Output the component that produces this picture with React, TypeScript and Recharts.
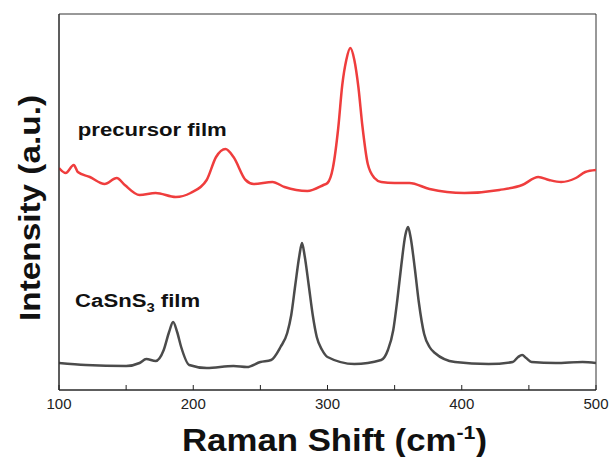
import { LineChart, Line, XAxis, YAxis, ReferenceArea, ReferenceDot } from "recharts";

// Raman shift (cm-1) and intensity (a.u.)
const precursorShift = [100, 105, 111, 114, 123, 134, 143, 149, 160, 172, 187, 198, 210, 217, 224, 230, 239, 245, 259, 268, 285, 297, 300, 304, 308, 311, 314, 317, 320, 323, 326, 330, 335, 340, 350, 361, 376, 402, 428, 445, 457, 465, 474, 485, 492, 500];
const precursorIntensity = [222, 217, 225, 218, 213, 206, 212, 205, 195, 197, 193, 197, 210, 233, 241, 233, 210, 206, 208, 203, 199, 205, 207, 222, 262, 305, 330, 342, 330, 303, 264, 226, 212, 208, 207, 207, 201, 197, 200, 205, 213, 210, 208, 212, 218, 220];

const filmShift = [100, 120, 150, 160, 165, 172, 178, 182, 185, 188, 191, 197, 210, 230, 240, 250, 258, 265, 270, 273, 276, 279, 281, 283, 286, 289, 292, 296, 300, 320, 340, 345, 349, 352, 355, 358, 360, 362, 365, 368, 372, 376, 380, 395, 420, 438, 442, 445, 448, 452, 470, 490, 500];
const filmIntensity = [27, 25, 24, 27, 31, 29, 40, 58, 68, 58, 43, 25, 22, 24, 23, 28, 30, 43, 57, 75, 105, 134, 147, 134, 105, 75, 53, 40, 33, 26, 30, 40, 60, 90, 125, 155, 163, 152, 122, 88, 56, 43, 37, 28, 26, 28, 33, 35, 32, 28, 27, 28, 27];

const xTicks = [100, 150, 200, 250, 300, 350, 400, 450, 500];

const precursorData = precursorShift.map((x, i) => ({ x, y: precursorIntensity[i] }));
const filmData = filmShift.map((x, i) => ({ x, y: filmIntensity[i] }));

const FONT = "'Liberation Sans', Arial, sans-serif";

const YTitle = () => (
  <text
    x={30}
    y={208}
    transform="rotate(-90 30 208)"
    textAnchor="middle"
    dominantBaseline="central"
    fontFamily={FONT}
    fontWeight="bold"
    fontSize={29}
    textLength={226}
    lengthAdjust="spacingAndGlyphs"
    fill="#111"
  >
    Intensity (a.u.)
  </text>
);

const XTitle = () => (
  <text
    x={182}
    y={451}
    fontFamily={FONT}
    fontWeight="bold"
    fontSize={31}
    textLength={305}
    lengthAdjust="spacingAndGlyphs"
    fill="#111"
  >
    Raman Shift (cm
    <tspan dy={-12} fontSize={19}>-1</tspan>
    <tspan dy={12}>)</tspan>
  </text>
);

const Note = ({ viewBox, length, children }: any) => (
  <text
    x={viewBox.x}
    y={viewBox.y}
    fontFamily={FONT}
    fontWeight="bold"
    fontSize={18}
    textLength={length}
    lengthAdjust="spacingAndGlyphs"
    fill="#111"
  >
    {children}
  </text>
);

export default function App() {
  return (
    <div style={{ position: "absolute", left: 0, top: 0 }}>
      <LineChart width={611} height={457} margin={{ top: 14, right: 15, bottom: 37, left: 0 }}>
        <XAxis
          dataKey="x"
          type="number"
          domain={[100, 500]}
          ticks={xTicks}
          allowDataOverflow
          height={30}
          tickFormatter={(v: number) => (v % 100 === 0 ? String(v) : "")}
          tickSize={-5}
          tickMargin={13}
          stroke="#222"
          tick={{ fill: "#222", fontSize: 15, fontFamily: FONT }}
          label={{ content: () => <XTitle /> }}
        />
        <YAxis
          type="number"
          domain={[0, 376]}
          width={59}
          tick={false}
          tickLine={false}
          stroke="#222"
          label={{ content: () => <YTitle /> }}
        />
        <ReferenceArea x1={100} x2={500} y1={0} y2={376} fill="none" stroke="#333" strokeWidth={1} ifOverflow="visible" />
        <Line
          data={precursorData}
          dataKey="y"
          type="monotone"
          stroke="#ef3d3d"
          strokeWidth={2.5}
          dot={false}
          isAnimationActive={false}
        />
        <Line
          data={filmData}
          dataKey="y"
          type="monotone"
          stroke="#4b4b4b"
          strokeWidth={2.5}
          dot={false}
          isAnimationActive={false}
        />
        <ReferenceDot
          x={114}
          y={254}
          r={0}
          fill="none"
          stroke="none"
          label={{ content: (p: any) => <Note viewBox={p.viewBox} length={149}>precursor film</Note> }}
        />
        <ReferenceDot
          x={112}
          y={83}
          r={0}
          fill="none"
          stroke="none"
          label={{
            content: (p: any) => (
              <Note viewBox={p.viewBox} length={125}>
                CaSnS<tspan dy={5} fontSize={12}>3</tspan>
                <tspan dy={-5}> film</tspan>
              </Note>
            ),
          }}
        />
      </LineChart>
    </div>
  );
}
